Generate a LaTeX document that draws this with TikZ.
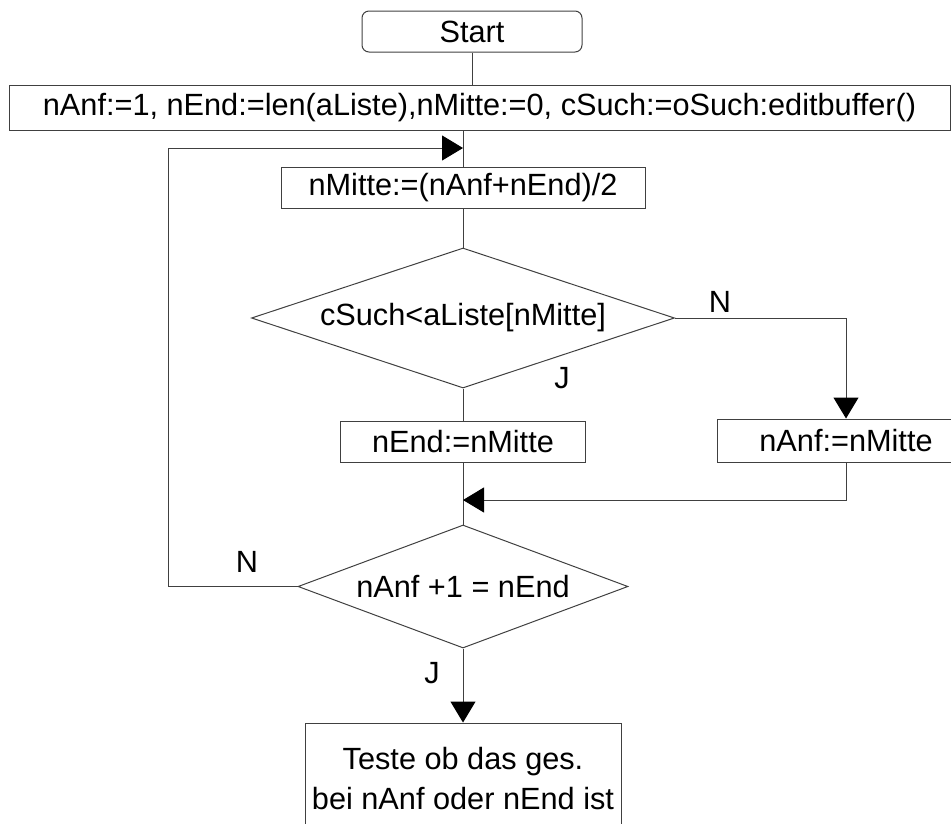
\documentclass[tikz,border=0pt]{standalone}
\usepackage{fontspec}
\setmainfont{Liberation Sans}
\usetikzlibrary{shapes.geometric,arrows.meta}
\begin{document}
\begin{tikzpicture}[x=1pt,y=-1pt,
    every node/.style={font=\fontsize{30.7}{40}\selectfont},
    kasten/.style={draw=black!75,line width=1pt,inner sep=0pt,align=center},
    raute/.style={diamond,draw=black!75,line width=1pt,inner sep=0pt},
    pfeil/.style={-{Triangle[length=21pt,width=25pt,color=black]}}]
  \useasboundingbox (0,0) rectangle (951,823);
  \clip (0,0) rectangle (951,823);
  % boxes and decisions
  \node[kasten,rounded corners=7pt,minimum width=220pt,minimum height=41pt] (start) at (472,31.5) {Start};
  \node[kasten,minimum width=941pt,minimum height=45pt] (init) at (479.5,107.5)
    {nAnf:=1, nEnd:=len(aListe),nMitte:=0, cSuch:=oSuch:editbuffer()};
  \node[kasten,minimum width=364pt,minimum height=41pt] (mitte) at (463,187.5) {nMitte:=(nAnf+nEnd)/2};
  \node[raute,aspect=3.02,minimum width=423pt,minimum height=140pt] (vergl) at (463,318) {cSuch<aListe[nMitte]};
  \node[kasten,minimum width=245pt,minimum height=41pt] (nend) at (463,441.5) {nEnd:=nMitte};
  \node[kasten,minimum width=258pt,minimum height=43pt] (nanf) at (846,440.5) {nAnf:=nMitte};
  \node[raute,aspect=2.68,minimum width=330pt,minimum height=123pt] (pruef) at (463,586.5) {nAnf +1 = nEnd};
  \node[kasten,minimum width=316pt,minimum height=112pt] (ende) at (463,779)
    {Teste ob das ges.\\bei nAnf oder nEnd ist};
  % labels
  \node (n1) at (720,302) {N};
  \node (j1) at (562,378) {J};
  \node (n2) at (247,562) {N};
  \node (j2) at (432,673) {J};
  \coordinate (ruecksprung) at (463,148);
  \coordinate (zusammen) at (463,500);
  % connectors
  \begin{scope}[line width=1pt,draw=black!75]
    \draw (start.south) -- (start.south |- init.north);
    \draw (mitte.north |- init.south) -- (mitte.north);
    \draw (mitte.south) -- (vergl.north);
    \draw[pfeil] (vergl.east) -| (nanf.north);
    \draw (vergl.south) -- (nend.north);
    \draw (nend.south) -- (pruef.north);
    \draw[pfeil] (nanf.south) |- (zusammen);
    \draw[pfeil] (pruef.west) -- ++(-129,0) |- (ruecksprung);
    \draw[pfeil] (pruef.south) -- (ende.north);
  \end{scope}
\end{tikzpicture}
\end{document}
